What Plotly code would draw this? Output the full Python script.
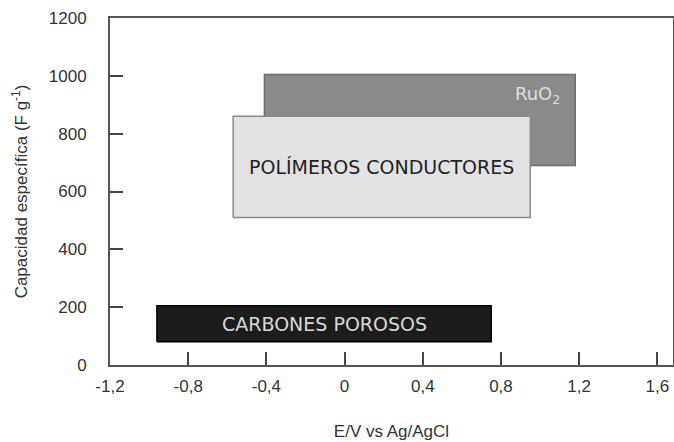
import plotly.graph_objects as go

# Data
materials = ["RuO<sub>2</sub>", "POLÍMEROS CONDUCTORES", "CARBONES POROSOS"]
e_min = [-0.41, -0.57, -0.96]
e_max = [1.18, 0.95, 0.75]
c_min = [690, 510, 80]
c_max = [1005, 860, 205]

x_tickvals = [-1.2, -0.8, -0.4, 0, 0.4, 0.8, 1.2, 1.6]
x_ticktext = ["-1,2", "-0,8", "-0,4", "0", "0,4", "0,8", "1,2", "1,6"]
y_tickvals = [0, 200, 400, 600, 800, 1000, 1200]

fills = ["#8a8a8a", "#e2e2e2", "#1c1c1c"]
borders = ["#6e6e6e", "#8a8a8a", "#000000"]
text_colors = ["#dedede", "#222222", "#d8d8d8"]

fig = go.Figure()

for i, name in enumerate(materials):
    fig.add_trace(go.Scatter(
        x=[e_min[i], e_max[i], e_max[i], e_min[i], e_min[i]],
        y=[c_min[i], c_min[i], c_max[i], c_max[i], c_min[i]],
        mode="lines", fill="toself", fillcolor=fills[i],
        line=dict(color=borders[i], width=1.5),
        hoverinfo="skip", showlegend=False,
    ))

# Labels
fig.add_annotation(x=e_max[0] - 0.07, y=c_max[0] - 70, text=materials[0],
                   showarrow=False, xanchor="right", yanchor="middle",
                   font=dict(family="DejaVu Sans", size=18, color=text_colors[0]))
for i in (1, 2):
    fig.add_annotation(x=(e_min[i] + e_max[i]) / 2, y=(c_min[i] + c_max[i]) / 2,
                       text=materials[i], showarrow=False,
                       xanchor="center", yanchor="middle",
                       font=dict(family="DejaVu Sans", size=19, color=text_colors[i]))

axis_font = dict(family="Liberation Sans, Arial", size=17, color="#333333")

fig.update_layout(
    width=674, height=442,
    margin=dict(l=110, r=1, t=18, b=77),
    paper_bgcolor="white", plot_bgcolor="white",
    font=axis_font,
    xaxis=dict(
        range=[-1.2, 1.68], tickvals=x_tickvals, ticktext=x_ticktext,
        ticks="inside", ticklen=13, tickwidth=2, tickcolor="#444444",
        showline=True, linecolor="#555555", linewidth=2, mirror=True,
        showgrid=False, zeroline=False, ticklabelstandoff=5, automargin=False,
        title=dict(text="E/V vs Ag/AgCl", standoff=30, font=axis_font),
        tickfont=axis_font,
    ),
    yaxis=dict(
        range=[0, 1200], tickvals=y_tickvals,
        ticks="inside", ticklen=13, tickwidth=2, tickcolor="#444444",
        showline=True, linecolor="#555555", linewidth=2, mirror=True,
        showgrid=False, zeroline=False, ticklabelstandoff=18, automargin=False,
        title=dict(text="Capacidad específica (F g<sup>-1</sup>)", standoff=17, font=axis_font),
        tickfont=axis_font,
    ),
)

fig.write_html("out.html", config={"displayModeBar": False},
               post_script="document.body.style.margin='0px';document.body.style.overflow='hidden';")
